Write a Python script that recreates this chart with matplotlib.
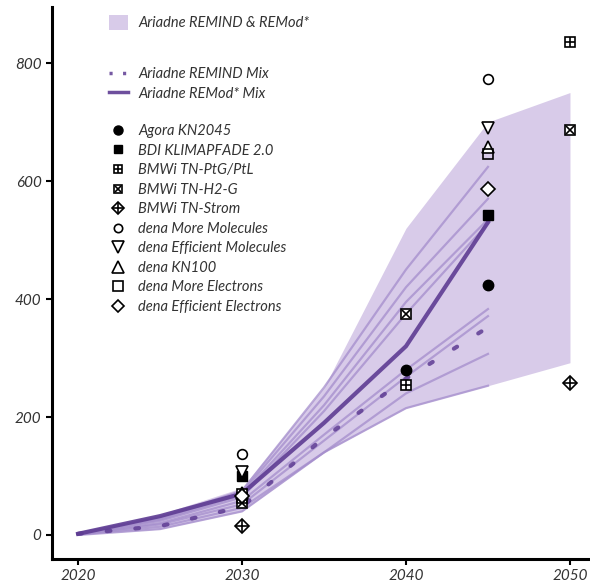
import matplotlib
matplotlib.use("Agg")
import matplotlib.pyplot as plt
from matplotlib.patches import Patch
from matplotlib.lines import Line2D

# ---------------- data ----------------
years = [2020, 2025, 2030, 2035, 2040, 2045]
band_years = [2020, 2025, 2030, 2035, 2040, 2045, 2050]
band_low = [0, 10, 40, 140, 215, 253, 292]
band_high = [5, 35, 80, 250, 520, 700, 750]

remind_mix = [2, 15, 48, 165, 265, 352]
remod_mix = [2, 32, 70, 190, 320, 530]

scenario_lines = [
    [3, 30, 75, 250, 450, 624],
    [3, 28, 72, 235, 420, 570],
    [2, 26, 68, 220, 395, 535],
    [2, 24, 64, 210, 375, 528],
    [2, 20, 58, 170, 280, 383],
    [1, 18, 52, 160, 268, 371],
    [1, 14, 46, 140, 240, 307],
    [0, 10, 40, 140, 215, 253],
]

studies = ["Agora KN2045", "BDI KLIMAPFADE 2.0", "BMWi TN-PtG/PtL",
           "BMWi TN-H2-G", "BMWi TN-Strom", "dena More Molecules",
           "dena Efficient Molecules", "dena KN100", "dena More Electrons",
           "dena Efficient Electrons"]
study_years = {
    "Agora KN2045": [2030, 2040, 2045],
    "BDI KLIMAPFADE 2.0": [2030, 2045],
    "BMWi TN-PtG/PtL": [2030, 2040, 2050],
    "BMWi TN-H2-G": [2030, 2040, 2050],
    "BMWi TN-Strom": [2030, 2050],
    "dena More Molecules": [2030, 2045],
    "dena Efficient Molecules": [2030, 2045],
    "dena KN100": [2030, 2045],
    "dena More Electrons": [2030, 2045],
    "dena Efficient Electrons": [2030, 2045],
}
study_values = {
    "Agora KN2045": [68, 280, 424],
    "BDI KLIMAPFADE 2.0": [100, 542],
    "BMWi TN-PtG/PtL": [70, 255, 836],
    "BMWi TN-H2-G": [55, 375, 687],
    "BMWi TN-Strom": [15, 257],
    "dena More Molecules": [138, 773],
    "dena Efficient Molecules": [106, 690],
    "dena KN100": [72, 657],
    "dena More Electrons": [62, 645],
    "dena Efficient Electrons": [66, 587],
}
x_ticks = [2020, 2030, 2040, 2050]
y_ticks = [0, 200, 400, 600, 800]

# ---------------- style ----------------
FONT = "Lato"
TXT = "#333333"
BAND = "#d8cbe9"
LIGHT = "#a48dcc"
DARK = "#5e3c93"

plt.rcParams["font.family"] = [FONT, "DejaVu Sans"]
plt.rcParams["font.style"] = "italic"

W, H = 590, 583
fig = plt.figure(figsize=(W / 100, H / 100), dpi=100)
L, R, T, B = 52, 588, 7, 559
ax = fig.add_axes([L / W, 1 - B / H, (R - L) / W, (B - T) / H])

ax.fill_between(band_years, band_low, band_high, color=BAND, lw=0, zorder=1)
for s in scenario_lines:
    ax.plot(years, s, color=LIGHT, lw=1.6, alpha=0.75, zorder=2)
DOT = (0, (0.9, 6.0))
ax.plot(years, remind_mix, color=DARK, lw=3, ls=DOT,
        dash_capstyle="round", alpha=0.85, zorder=3)
ax.plot(years, remod_mix, color=DARK, lw=3, alpha=0.9, zorder=3)

MS = 8
def marker_spec(name, ms):
    if name == "Agora KN2045":
        return [dict(marker="o", mfc="black", mec="black", ms=ms - 0.5)]
    if name == "BDI KLIMAPFADE 2.0":
        return [dict(marker="s", mfc="black", mec="black", ms=ms - 1)]
    if name == "BMWi TN-PtG/PtL":
        return [dict(marker="s", mfc="white", mec="black", ms=ms - 1, mew=1.2),
                dict(marker="+", mfc="none", mec="black", ms=ms - 1, mew=1.2)]
    if name == "BMWi TN-H2-G":
        return [dict(marker="s", mfc="white", mec="black", ms=ms - 1, mew=1.2),
                dict(marker="x", mfc="none", mec="black", ms=ms - 2.5, mew=1.2)]
    if name == "BMWi TN-Strom":
        return [dict(marker="D", mfc="white", mec="black", ms=ms - 0.5, mew=1.2),
                dict(marker="+", mfc="none", mec="black", ms=ms + 1.5, mew=1.2)]
    if name == "dena More Molecules":
        return [dict(marker="o", mfc="white", mec="black", ms=ms - 1, mew=1.2)]
    if name == "dena Efficient Molecules":
        return [dict(marker="v", mfc="white", mec="black", ms=ms + 1, mew=1.2)]
    if name == "dena KN100":
        return [dict(marker="^", mfc="white", mec="black", ms=ms + 1, mew=1.2)]
    if name == "dena More Electrons":
        return [dict(marker="s", mfc="none", mec="black", ms=ms - 0.5, mew=1.2)]
    if name == "dena Efficient Electrons":
        return [dict(marker="D", mfc="white", mec="black", ms=ms - 1, mew=1.2)]

study_handles = []
for name in studies:
    for sp in marker_spec(name, MS):
        ax.plot(study_years[name], study_values[name], ls="none", zorder=5, **sp)
    hs = [Line2D([], [], ls="none", **sp) for sp in marker_spec(name, MS - 1)]
    study_handles.append(tuple(hs))

ax.set_xlim(2018.41, 2051.1)
ax.set_ylim(-40.7, 895)
ax.set_xticks(x_ticks)
ax.set_yticks(y_ticks)
for sp in ["top", "right"]:
    ax.spines[sp].set_visible(False)
for sp in ["left", "bottom"]:
    ax.spines[sp].set_linewidth(2.2)
    ax.spines[sp].set_color("black")
ax.tick_params(axis="both", length=4, width=1.5, color="black",
               labelsize=11, labelcolor=TXT)
for lbl in ax.get_xticklabels() + ax.get_yticklabels():
    lbl.set_fontstyle("italic")

def fig_pt(x, y):
    return (x / W, 1 - y / H)

leg_kw = dict(frameon=False, fontsize=10.5, borderpad=0, borderaxespad=0,
              handletextpad=0.7, loc="upper left",
              bbox_transform=fig.transFigure, labelcolor=TXT)

leg1 = ax.legend([Patch(facecolor=BAND, edgecolor="none")],
                 ["Ariadne REMIND & REMod*"], bbox_to_anchor=fig_pt(109, 15),
                 handlelength=1.3, handleheight=1.2, **leg_kw)
ax.add_artist(leg1)

leg2 = ax.legend([Line2D([], [], color=DARK, lw=2.5, ls=(0, (0.9, 3)), alpha=0.85),
                  Line2D([], [], color=DARK, lw=2.5, alpha=0.9)],
                 ["Ariadne REMIND Mix", "Ariadne REMod* Mix"],
                 bbox_to_anchor=fig_pt(109, 67), handlelength=1.3,
                 labelspacing=0.38, **leg_kw)
ax.add_artist(leg2)

leg3 = ax.legend(study_handles, studies, bbox_to_anchor=fig_pt(109, 124),
                 handlelength=1.3, labelspacing=0.38, **leg_kw)

fig.savefig("out.png", dpi=100)
